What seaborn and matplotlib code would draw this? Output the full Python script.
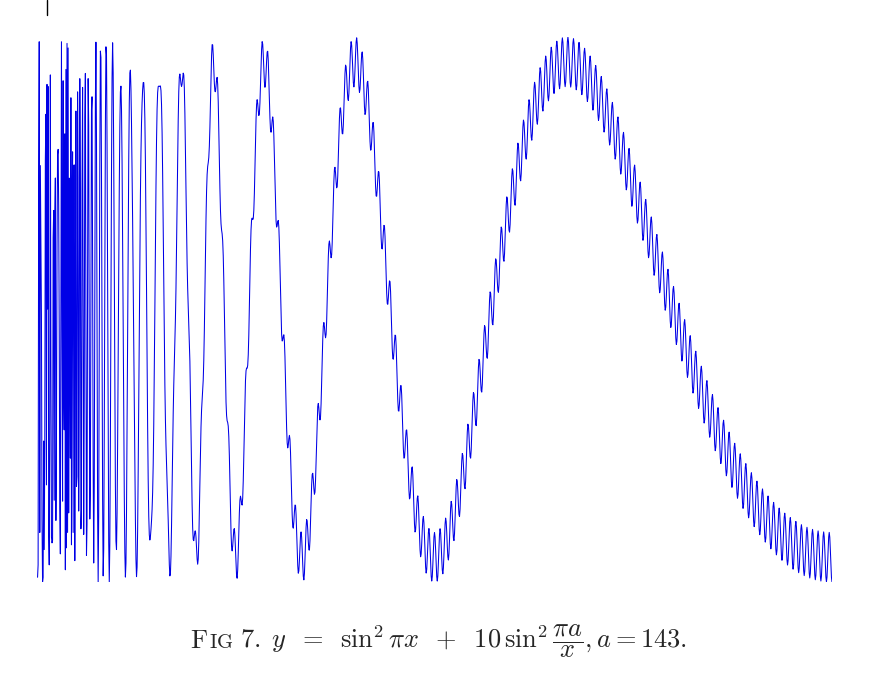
import numpy as np
import pandas as pd
import matplotlib
matplotlib.use("Agg")
import matplotlib.pyplot as plt
import seaborn as sns

# Parameters stated in the figure caption
a = 143
coef = 10
x_start = 0.1
x_end = 143.0
x_step = 0.1

x = np.arange(x_start, x_end + x_step / 2, x_step)
y = np.sin(np.pi * x) ** 2 + coef * np.sin(np.pi * a / x) ** 2
df = pd.DataFrame({"x": x, "y": y})

sns.set_theme(style="white")
plt.rcParams["mathtext.fontset"] = "cm"

fig = plt.figure(figsize=(8.7, 6.84), dpi=100)
ax = fig.add_axes([37 / 870, 1 - 582 / 684, (832 - 37) / 870, (582 - 37) / 684])
sns.lineplot(data=df, x="x", y="y", ax=ax, color="#0000e6", linewidth=0.75,
             estimator=None, sort=False)
ax.set_xlim(0, 143)
ax.set_ylim(0, 11)
ax.axis("off")

# small mark at top left
fig.add_artist(plt.Line2D([47 / 870, 47 / 870], [1 - 15 / 684, 1.0], color="black", linewidth=1))

# caption with small caps "FIG"
fig.canvas.draw()
r = fig.canvas.get_renderer()
yc = 1 - 648 / 684
fs = 19
t1 = fig.text(190 / 870, yc, r"$\mathrm{F}$", fontsize=fs, ha="left", va="baseline")
bb = t1.get_window_extent(r)
t2 = fig.text(bb.x1 / 870 + 0.001, yc, r"$\mathrm{IG}$", fontsize=fs * 0.78, ha="left", va="baseline")
bb = t2.get_window_extent(r)
t3 = fig.text(bb.x1 / 870 + 0.008, yc,
              r"$\mathrm{7.}\;y\;\;=\;\;\sin^2\pi x\;\;+\;\;10\,\sin^2\dfrac{\pi a}{x}, a=143.$",
              fontsize=fs, ha="left", va="baseline")

fig.savefig("out.png", dpi=100)
